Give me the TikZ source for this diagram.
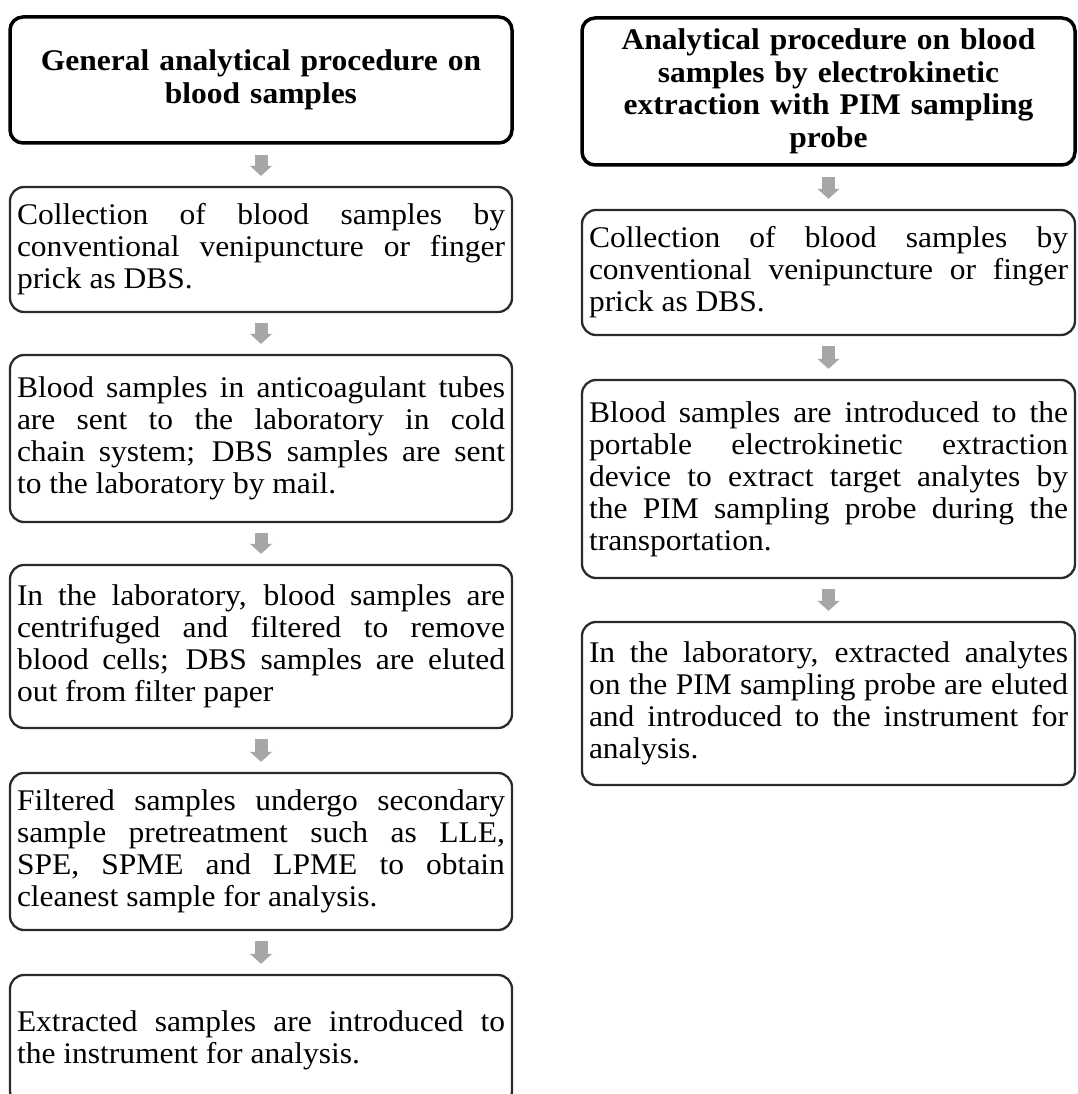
\documentclass[tikz,border=0pt]{standalone}
\usepackage{fontspec}
\setmainfont{Liberation Serif}[FakeStretch=1.05]
\usetikzlibrary{arrows.meta}
\definecolor{arrowgray}{HTML}{A6A6A6}
\definecolor{edgegray}{HTML}{2A2A2A}
\tolerance=10000
\hyphenpenalty=10000
\tikzset{
  bodyfont/.style={font=\fontsize{30}{32}\selectfont},
  stepbox/.style={bodyfont, draw=edgegray, line width=2.3pt, rounded corners=14pt,
    inner xsep=7pt, inner ysep=0pt, align=justify},
  titlebox/.style={font=\fontsize{30}{32.5}\selectfont\bfseries, draw=black, line width=3.5pt,
    rounded corners=13pt, inner xsep=7pt, inner ysep=0pt, align=center},
  leftcol/.style={text width=488pt, minimum width=502pt},
  rightcol/.style={text width=479pt, minimum width=493pt},
  flowarrow/.style={draw=arrowgray, line width=13pt, shorten <=10pt, shorten >=10pt,
    -{Triangle[length=10pt,width=22pt,line width=0pt]}}
}
\begin{document}
\begin{tikzpicture}[x=1pt,y=-1pt]
\clip (0,0) rectangle (1077,1094);
\fill[white] (0,0) rectangle (1077,1094);

% left column
\node[titlebox, leftcol, minimum height=126pt] (L1) at (261,80)
  {General analytical procedure on\\ blood samples};
\node[stepbox, leftcol, minimum height=125pt] (L2) at (261,249.5)
  {Collection of blood samples by\linebreak conventional venipuncture or finger\linebreak prick as DBS.};
\node[stepbox, leftcol, minimum height=167pt] (L3) at (261,438.5)
  {Blood samples in anticoagulant tubes\linebreak are sent to the laboratory in cold\linebreak chain system; DBS samples are sent\linebreak to the laboratory by mail.};
\node[stepbox, leftcol, minimum height=163pt] (L4) at (261,646.5)
  {In the laboratory, blood samples are\linebreak centrifuged and filtered to remove\linebreak blood cells; DBS samples are eluted\linebreak out from filter paper};
\node[stepbox, leftcol, minimum height=157pt] (L5) at (261,851.5)
  {Filtered samples undergo secondary\linebreak sample pretreatment such as LLE,\linebreak SPE, SPME and LPME to obtain\linebreak cleanest sample for analysis.};
\node[stepbox, leftcol, minimum height=130pt] (L6) at (261,1040)
  {Extracted samples are introduced to\linebreak the instrument for analysis.};

% right column
\node[titlebox, rightcol, minimum height=147pt] (R1) at (828.5,91.5)
  {Analytical procedure on blood\\ samples by electrokinetic\\ extraction with PIM sampling\\ probe};
\node[stepbox, rightcol, minimum height=125pt] (R2) at (828.5,272.5)
  {Collection of blood samples by\linebreak conventional venipuncture or finger\linebreak prick as DBS.};
\node[stepbox, rightcol, minimum height=198pt] (R3) at (828.5,479)
  {Blood samples are introduced to the\linebreak portable electrokinetic extraction\linebreak device to extract target analytes by\linebreak the PIM sampling probe during the\linebreak transportation.};
\node[stepbox, rightcol, minimum height=163pt] (R4) at (828.5,703.5)
  {In the laboratory, extracted analytes\linebreak on the PIM sampling probe are eluted\linebreak and introduced to the instrument for\linebreak analysis.};

% connectors
\draw[flowarrow] (L1.south) -- (L2.north);
\draw[flowarrow] (L2.south) -- (L3.north);
\draw[flowarrow] (L3.south) -- (L4.north);
\draw[flowarrow] (L4.south) -- (L5.north);
\draw[flowarrow] (L5.south) -- (L6.north);
\draw[flowarrow] (R1.south) -- (R2.north);
\draw[flowarrow] (R2.south) -- (R3.north);
\draw[flowarrow] (R3.south) -- (R4.north);
\end{tikzpicture}
\end{document}
